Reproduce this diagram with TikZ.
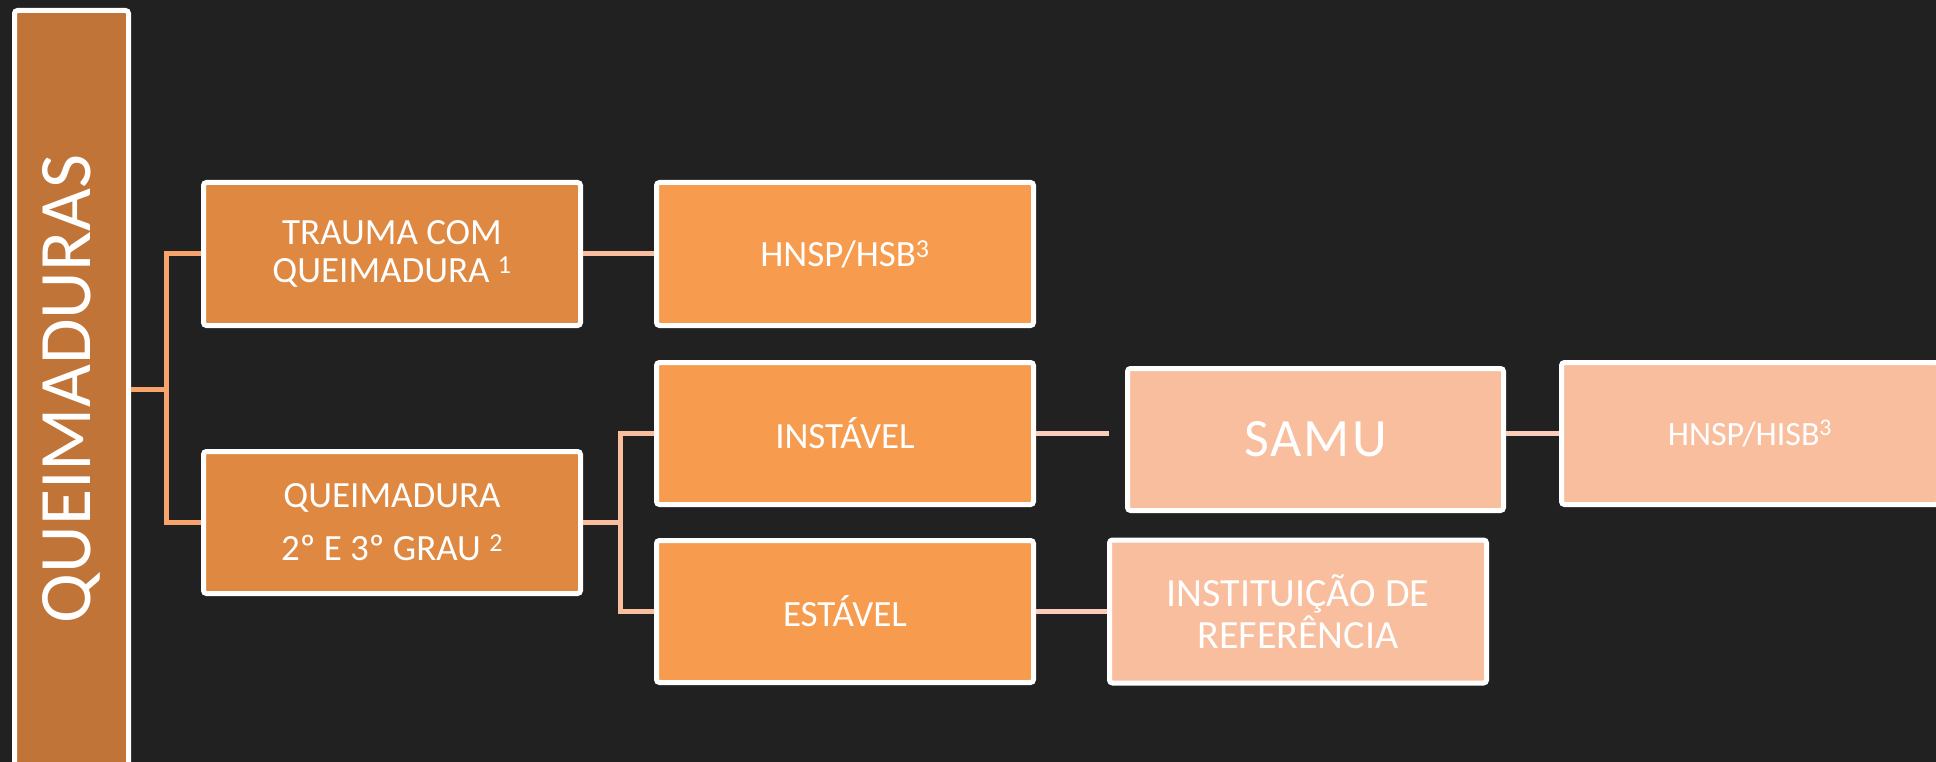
\documentclass[tikz,border=0pt]{standalone}
\usepackage{fontspec}
\setmainfont{Carlito}
\definecolor{bg}{RGB}{33,33,33}
\definecolor{rootfill}{RGB}{193,116,55}
\definecolor{lvla}{RGB}{222,136,65}
\definecolor{lvlb}{RGB}{247,155,78}
\definecolor{lvlc}{RGB}{248,190,157}
\definecolor{linea}{RGB}{247,163,108}
\definecolor{lineb}{RGB}{248,190,157}
\definecolor{linec}{RGB}{249,205,185}
\begin{document}
\begin{tikzpicture}[x=1pt,y=-1pt,
  box/.style={draw=white, line width=5pt, rounded corners=3pt, inner sep=0pt,
    text=white, align=center, minimum width=377pt, minimum height=142pt,
    font=\fontsize{37}{38}\selectfont},
  conna/.style={draw=linea, line width=5pt},
  connb/.style={draw=lineb, line width=5pt},
  connc/.style={draw=linec, line width=5pt}]
\fill[bg] (0,0) rectangle (1936,762);
\useasboundingbox (0,0) rectangle (1936,762);
% junction points
\coordinate (j1) at (166,389);
\coordinate (j2) at (620,522.5);
\coordinate (gap) at (1109,433.5);
% boxes
\node[box, fill=rootfill, minimum width=114pt, minimum height=757pt] (root) at (71.5,389) {};
\node[rotate=90, text=white, font=\fontsize{74}{76}\selectfont, inner sep=0pt] (roottxt) at (root.center) {QUEIMADURAS};
\node[box, fill=lvla, minimum height=143pt] (trauma) at (392,254) {TRAUMA COM\\QUEIMADURA \textsuperscript{1}};
\node[box, fill=lvla, font=\fontsize{37}{53}\selectfont] (queim) at (392,522.5) {QUEIMADURA\\2º E 3º GRAU \textsuperscript{2}};
\node[box, fill=lvlb, minimum height=143pt] (hnspa) at (845,254) {HNSP/HSB\textsuperscript{3}};
\node[box, fill=lvlb] (inst) at (845,433.5) {INSTÁVEL};
\node[box, fill=lvlb] (est) at (845,611.5) {ESTÁVEL};
\node[box, fill=lvlc, minimum width=376pt, font=\fontsize{54}{56}\selectfont] (samu) at (1315.5,439.5) {\addfontfeatures{LetterSpace=4}SAMU};
\node[box, fill=lvlc, font=\fontsize{34}{36}\selectfont] (hnspb) at (1750,433.5) {HNSP/HISB\textsuperscript{3}};
\node[box, fill=lvlc, minimum height=143pt, font=\fontsize{40}{42}\selectfont] (instit) at (1298,611.5) {INSTITUIÇÃO DE\\REFERÊNCIA};
% connectors
\draw[conna] (root.east) -- (j1);
\draw[conna] (trauma.west) -| (j1) |- (queim.west);
\draw[connb] (trauma.east) -- (hnspa.west);
\draw[connb] (queim.east) -- (j2);
\draw[connb] (inst.west) -| (j2) |- (est.west);
\draw[connc] (inst.east) -- (gap);
\draw[connc] (hnspb.west) -- (hnspb.west -| samu.east);
\draw[connc] (est.east) -- (instit.west);
\end{tikzpicture}
\end{document}
